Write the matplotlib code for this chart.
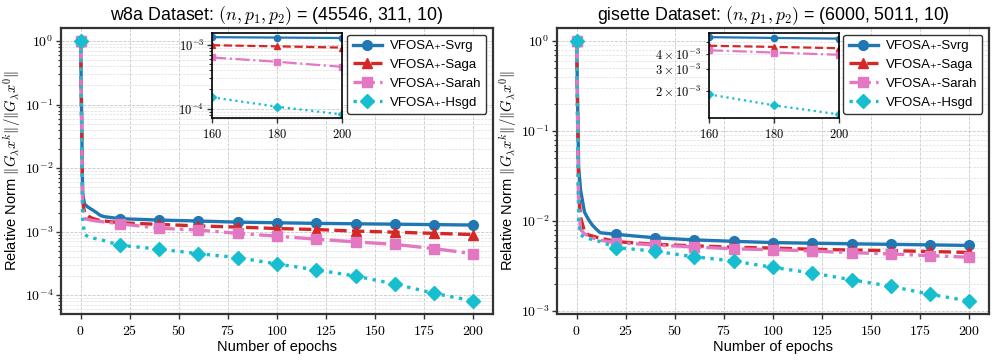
import numpy as np
import matplotlib
matplotlib.use('Agg')
import matplotlib.pyplot as plt
from matplotlib.ticker import LogFormatterSciNotation, FuncFormatter

plt.rcParams['font.family'] = ['Liberation Sans', 'DejaVu Sans']
plt.rcParams['mathtext.fontset'] = 'cm'

# epochs where values were read; markers every 20 epochs
epochs = [0, 1, 2, 4, 6, 8, 10, 12, 20, 40, 60, 80, 100, 120, 140, 160, 180, 200]

w8a_svrg = [1.0, 4.0e-3, 2.7e-3, 2.4e-3, 2.2e-3, 2.0e-3, 1.8e-3, 1.72e-3, 1.6e-3, 1.52e-3,
            1.47e-3, 1.41e-3, 1.38e-3, 1.35e-3, 1.33e-3, 1.31e-3, 1.29e-3, 1.27e-3]
w8a_saga = [1.0, 3.0e-3, 2.0e-3, 1.75e-3, 1.62e-3, 1.55e-3, 1.5e-3, 1.47e-3, 1.38e-3, 1.3e-3,
            1.23e-3, 1.18e-3, 1.12e-3, 1.08e-3, 1.02e-3, 0.98e-3, 0.94e-3, 0.9e-3]
w8a_sarah = [1.0, 2.5e-3, 1.6e-3, 1.55e-3, 1.5e-3, 1.47e-3, 1.45e-3, 1.42e-3, 1.33e-3, 1.13e-3,
             1.06e-3, 0.94e-3, 0.85e-3, 0.76e-3, 0.69e-3, 0.63e-3, 0.54e-3, 0.45e-3]
w8a_hsgd = [1.0, 1.6e-3, 9.0e-4, 8.3e-4, 8.0e-4, 7.7e-4, 7.4e-4, 7.2e-4, 6.1e-4, 5.3e-4,
            4.5e-4, 3.9e-4, 3.1e-4, 2.5e-4, 2.0e-4, 1.5e-4, 1.07e-4, 8.1e-5]

gis_svrg = [1.0, 4.0e-2, 2.2e-2, 1.25e-2, 1.04e-2, 9.0e-3, 8.1e-3, 7.4e-3, 7.1e-3, 6.5e-3,
            6.16e-3, 5.94e-3, 5.75e-3, 5.66e-3, 5.57e-3, 5.5e-3, 5.42e-3, 5.35e-3]
gis_saga = [1.0, 2.0e-2, 1.1e-2, 7.6e-3, 7.0e-3, 6.8e-3, 6.6e-3, 6.45e-3, 5.9e-3, 5.5e-3,
            5.3e-3, 5.1e-3, 5.0e-3, 4.85e-3, 4.75e-3, 4.68e-3, 4.58e-3, 4.47e-3]
gis_sarah = [1.0, 1.5e-2, 8.0e-3, 7.2e-3, 6.8e-3, 6.5e-3, 6.3e-3, 6.1e-3, 5.76e-3, 5.4e-3,
             5.15e-3, 4.9e-3, 4.8e-3, 4.63e-3, 4.45e-3, 4.3e-3, 4.12e-3, 3.95e-3]
gis_hsgd = [1.0, 1.0e-2, 7.0e-3, 6.6e-3, 6.4e-3, 6.2e-3, 6.05e-3, 5.9e-3, 5.07e-3, 4.6e-3,
            4.0e-3, 3.58e-3, 3.05e-3, 2.64e-3, 2.22e-3, 1.88e-3, 1.53e-3, 1.29e-3]

labels = ['VFOSA\u208a-Svrg', 'VFOSA\u208a-Saga', 'VFOSA\u208a-Sarah', 'VFOSA\u208a-Hsgd']
titles = [r'w8a Dataset: $(n, p_1, p_2)$ = (45546, 311, 10)',
          r'gisette Dataset: $(n, p_1, p_2)$ = (6000, 5011, 10)']

colors = ['#1f77b4', '#d62728', '#e377c2', '#17becf']
styles = ['-', '--', '-.', ':']
markers = ['o', '^', 's', 'D']
EDGE = '#333333'


class CMLogFormatter(LogFormatterSciNotation):
    # drop \mathdefault so the labels come out in computer modern
    def __call__(self, x, pos=None):
        return super().__call__(x, pos).replace(r'\mathdefault', '')


def style_axes(ax, fs=10):
    for sp in ax.spines.values():
        sp.set_color(EDGE)
        sp.set_linewidth(1.6)
    ax.tick_params(which='both', direction='out', color=EDGE, labelsize=fs)
    ax.tick_params(axis='y', pad=2)
    ax.tick_params(which='major', length=3.5, width=1.0)
    ax.tick_params(which='minor', length=2.2, width=0.8)
    ax.grid(True, which='major', ls='--', lw=0.6, color='#c8c8c8')
    ax.grid(True, which='minor', ls='--', lw=0.5, color='#dedede')
    ax.set_axisbelow(True)
    ax.yaxis.set_major_formatter(CMLogFormatter())
    ax.yaxis.set_minor_formatter(CMLogFormatter(labelOnlyBase=False))
    ax.xaxis.set_major_formatter(FuncFormatter(lambda v, p: r'$%g$' % v))


def plot_panel(fig, rect, inset_rect, series, title):
    ax = fig.add_axes(rect)
    ax.set_yscale('log')
    mk = [i for i, e in enumerate(epochs) if e % 20 == 0]
    for vals, lab, c, ls, m in zip(series, labels, colors, styles, markers):
        ax.plot(epochs, vals, ls=ls, color=c, marker=m, markevery=mk, lw=2.4, ms=7, label=lab)
    style_axes(ax, 10)
    ax.set_xticks(np.arange(0, 201, 25))
    ax.set_xlabel('Number of epochs', fontsize=10.5, labelpad=1.5)
    ax.set_ylabel(r'Relative Norm $\|G_\lambda x^k\|/\|G_\lambda x^0\|$', fontsize=10.5)
    ax.yaxis.set_label_coords(-0.088, 0.5)
    ax.set_title(title, fontsize=12.8, pad=6)
    leg = ax.legend(loc='upper right', fontsize=9.5, frameon=True, fancybox=True,
                    handlelength=2.2, handletextpad=0.6, borderaxespad=0.5)
    leg.get_frame().set_edgecolor(EDGE)
    leg.get_frame().set_linewidth(1.0)
    leg.get_frame().set_alpha(1)

    # zoom on the last epochs
    axi = fig.add_axes(inset_rect)
    axi.set_yscale('log')
    idx = [i for i, e in enumerate(epochs) if e >= 160]
    ep = [epochs[i] for i in idx]
    for vals, c, ls, m in zip(series, colors, styles, markers):
        axi.plot(ep, [vals[i] for i in idx], ls=ls, color=c, marker=m, lw=1.6, ms=4.5)
    axi.set_xlim(160, 200)
    axi.set_xticks([160, 180, 200])
    style_axes(axi, 9)
    for sp in axi.spines.values():
        sp.set_color('black')
        sp.set_linewidth(1.2)
    return ax, axi


fig = plt.figure(figsize=(9.97, 3.61), dpi=100)
plot_panel(fig, [0.0612, 0.1302, 0.4333, 0.7922], [0.2126, 0.6723, 0.1304, 0.2355],
           [w8a_svrg, w8a_saga, w8a_sarah, w8a_hsgd], titles[0])
plot_panel(fig, [0.5587, 0.1302, 0.4333, 0.7922], [0.7111, 0.6723, 0.1307, 0.2355],
           [gis_svrg, gis_saga, gis_sarah, gis_hsgd], titles[1])

fig.savefig('out.png', dpi=100)
